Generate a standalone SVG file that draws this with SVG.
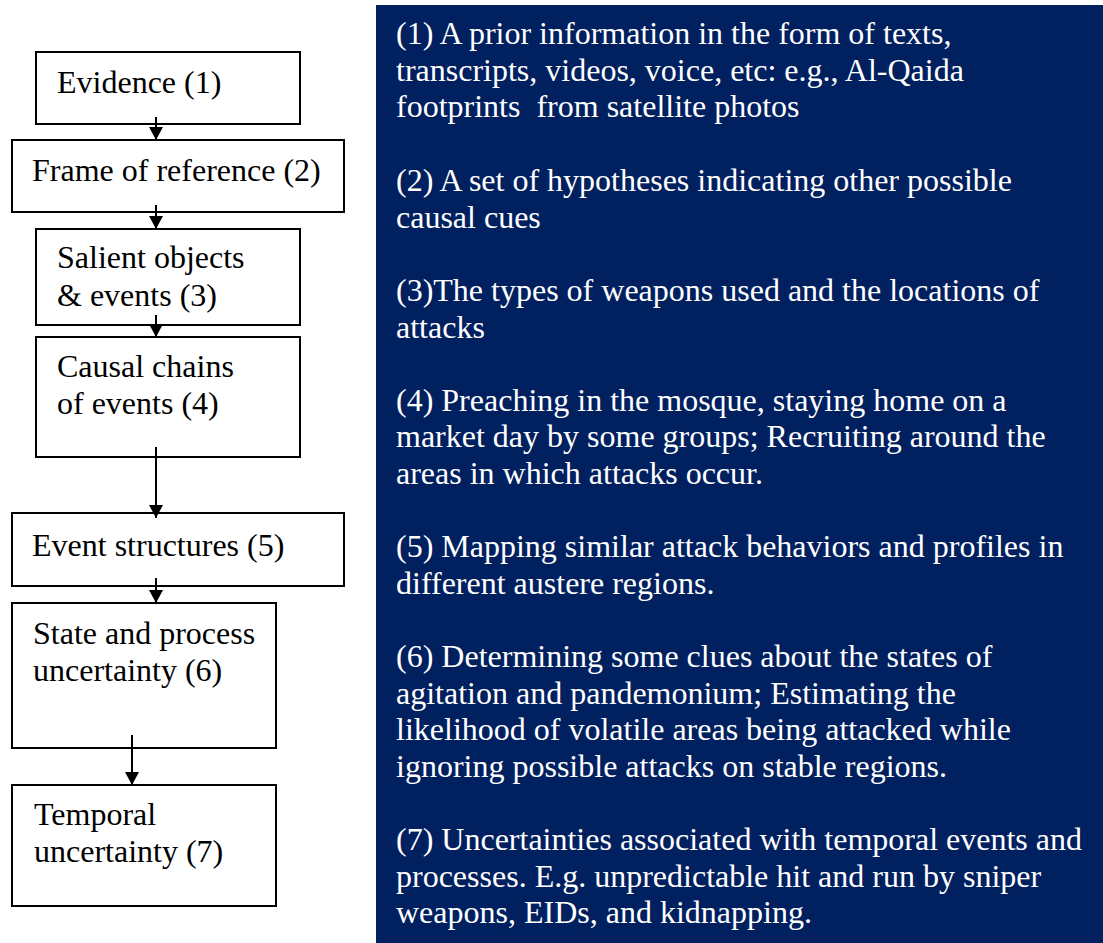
<svg xmlns="http://www.w3.org/2000/svg" width="1103" height="943" viewBox="0 0 1103 943">
<style>
.box{fill:#fff;stroke:#000;stroke-width:2}
.t{font-family:"Liberation Serif","Times New Roman",serif;font-size:32px;fill:#000}
.w{font-family:"Liberation Serif","Times New Roman",serif;font-size:32px;fill:#fff}
.c{stroke:#000;stroke-width:2;fill:none;marker-end:url(#ah)}
</style>
<defs>
<marker id="ah" markerUnits="userSpaceOnUse" markerWidth="14" markerHeight="14" refX="13" refY="7" orient="auto" viewBox="0 0 14 14">
<path d="M0,0 L13,7 L0,14 Z" fill="#000"/>
</marker>
</defs>
<rect x="0" y="0" width="1103" height="943" fill="#fff"/>
<g id="panel">
<rect x="376" y="5" width="727" height="938" fill="#00205f"/>
<text class="w" x="396" y="44">(1) A prior information in the form of texts,</text>
<text class="w" x="396" y="81">transcripts, videos, voice, etc: e.g., Al-Qaida</text>
<text class="w" x="396" y="117">footprints&#160; from satellite photos</text>
<text class="w" x="396" y="191">(2) A set of hypotheses indicating other possible</text>
<text class="w" x="396" y="228">causal cues</text>
<text class="w" x="396" y="301">(3)The types of weapons used and the locations of</text>
<text class="w" x="396" y="338">attacks</text>
<text class="w" x="396" y="411">(4) Preaching in the mosque, staying home on a</text>
<text class="w" x="396" y="447">market day by some groups; Recruiting around the</text>
<text class="w" x="396" y="484">areas in which attacks occur.</text>
<text class="w" x="396" y="557">(5) Mapping similar attack behaviors and profiles in</text>
<text class="w" x="396" y="594">different austere regions.</text>
<text class="w" x="396" y="667">(6) Determining some clues about the states of</text>
<text class="w" x="396" y="704">agitation and pandemonium; Estimating the</text>
<text class="w" x="396" y="740">likelihood of volatile areas being attacked while</text>
<text class="w" x="396" y="777">ignoring possible attacks on stable regions.</text>
<text class="w" x="396" y="850">(7) Uncertainties associated with temporal events and</text>
<text class="w" x="396" y="887">processes. E.g. unpredictable hit and run by sniper</text>
<text class="w" x="396" y="923">weapons, EIDs, and kidnapping.</text>
</g>
<g id="n1"><rect class="box" x="36" y="52" width="264" height="72"/><text class="t" x="57" y="93">Evidence (1)</text></g>
<g id="n2"><rect class="box" x="12" y="140" width="332" height="72"/><text class="t" x="32" y="181">Frame of reference (2)</text></g>
<g id="n3"><rect class="box" x="36" y="229" width="264" height="96"/><text class="t" x="57" y="268">Salient objects</text><text class="t" x="57" y="306">&amp; events (3)</text></g>
<g id="n4"><rect class="box" x="36" y="337" width="264" height="120"/><text class="t" x="57" y="377">Causal chains</text><text class="t" x="57" y="414">of events (4)</text></g>
<g id="n5"><rect class="box" x="12" y="513" width="332" height="73"/><text class="t" x="32" y="556">Event structures (5)</text></g>
<g id="n6"><rect class="box" x="12" y="603" width="264" height="145"/><text class="t" x="33" y="644">State and process</text><text class="t" x="33" y="681">uncertainty (6)</text></g>
<g id="n7"><rect class="box" x="12" y="785" width="264" height="121"/><text class="t" x="34" y="825">Temporal</text><text class="t" x="34" y="862">uncertainty (7)</text></g>
<g id="connectors">
<line class="c" x1="156" y1="117" x2="156" y2="140"/>
<line class="c" x1="156" y1="205" x2="156" y2="229"/>
<line class="c" x1="156" y1="315" x2="156" y2="337"/>
<line class="c" x1="156" y1="447" x2="156" y2="518"/>
<line class="c" x1="156" y1="578" x2="156" y2="603"/>
<line class="c" x1="132" y1="735" x2="132" y2="785"/>
</g>
</svg>
